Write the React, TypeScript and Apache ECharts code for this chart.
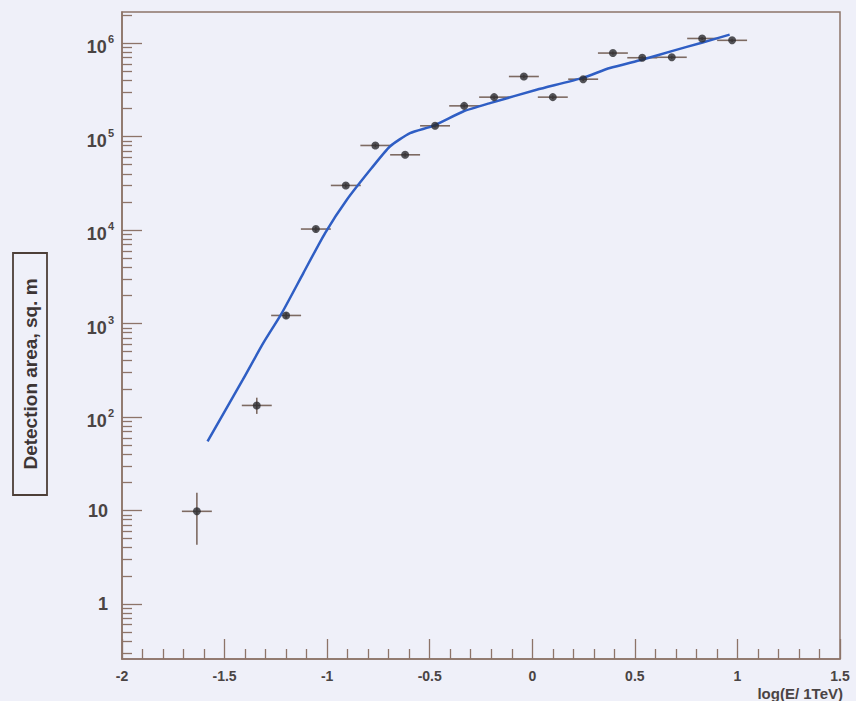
import React, { useEffect, useRef } from "react";
import * as echarts from "echarts";

// ---- data ----
const binCenters = [-1.635, -1.343, -1.2, -1.055, -0.909, -0.765, -0.62, -0.474, -0.332, -0.186, -0.041, 0.1, 0.248, 0.393, 0.536, 0.68, 0.828, 0.974];
const binHalfWidths = [0.073, 0.073, 0.073, 0.073, 0.073, 0.073, 0.073, 0.073, 0.073, 0.073, 0.073, 0.073, 0.073, 0.073, 0.073, 0.073, 0.073, 0.073];
const areaValues = [9.8, 133, 1220, 10250, 30000, 80300, 63800, 130300, 213000, 264000, 439000, 264000, 411000, 782000, 697000, 705000, 1120000, 1070000];
const areaErrLow = [5.5, 25, 90, 600, 1500, 3500, 3000, 5500, 9000, 11000, 18000, 11000, 17000, 30000, 27000, 27000, 42000, 40000];
const areaErrHigh = [5.7, 28, 90, 600, 1500, 3500, 3000, 5500, 9000, 11000, 18000, 11000, 17000, 30000, 27000, 27000, 42000, 40000];

const fitX = [-1.583, -1.411, -1.311, -1.221, -1.116, -1.01, -0.904, -0.783, -0.694, -0.596, -0.483, -0.337, -0.206, 0.021, 0.246, 0.378, 0.534, 0.68, 0.826, 0.962];
const fitArea = [54.8, 250.6, 620, 1294, 3467, 9290, 21090, 46030, 78340, 108900, 130300, 185400, 228000, 316200, 424600, 540800, 663700, 820300, 1009000, 1230000];

const xTickLabels = ["-2", "-1.5", "-1", "-0.5", "0", "0.5", "1", "1.5"];
const yDecades = [0, 1, 2, 3, 4, 5, 6];

const X_MIN = -2;
const X_MAX = 1.5;
const Y_MIN = 0.258;
const Y_MAX = 2.15e6;

const BG = "#eff0f9";
const FRAME = "#8d7469";
const TEXT = "#4a4444";
const FONT = "'Liberation Sans', Arial, Helvetica, sans-serif";

export default function App() {
  const ref = useRef<HTMLDivElement>(null);
  useEffect(() => {
    if (!ref.current) return;
    const chart = echarts.init(ref.current, undefined, { renderer: "svg" });
    const lg = (v: number) => Math.log10(v);
    const yMin = lg(Y_MIN);
    const yMax = lg(Y_MAX);

    const minorVals: number[] = [];
    for (let n = -1; n <= 6; n++) {
      for (let k = 2; k <= 9; k++) {
        const v = lg(k * Math.pow(10, n));
        if (v > yMin && v < yMax) minorVals.push(v);
      }
    }

    const points = binCenters.map((x, i) => [x, lg(areaValues[i])]);
    const bars = binCenters.map((x, i) => [
      x,
      lg(areaValues[i]),
      binHalfWidths[i],
      lg(Math.max(areaValues[i] - areaErrLow[i], 1e-3)),
      lg(areaValues[i] + areaErrHigh[i]),
    ]);
    const fit = fitX.map((x, i) => [x, lg(fitArea[i])]);

    const xLabelMap: Record<string, string> = {};
    [-2, -1.5, -1, -0.5, 0, 0.5, 1, 1.5].forEach((v, i) => (xLabelMap[String(v)] = xTickLabels[i]));

    chart.setOption({
      animation: false,
      backgroundColor: BG,
      grid: {
        left: 122,
        right: 16,
        top: 12,
        bottom: 42,
        show: true,
        borderColor: FRAME,
        borderWidth: 1.5,
        backgroundColor: "transparent",
      },
      xAxis: {
        type: "value",
        min: X_MIN,
        max: X_MAX,
        interval: 0.5,
        axisLine: { show: true, onZero: false, lineStyle: { color: FRAME, width: 1.5 } },
        axisTick: { show: true, inside: true, length: 20, lineStyle: { color: FRAME, width: 1.3 } },
        minorTick: { show: true, splitNumber: 5, length: 10, lineStyle: { color: FRAME, width: 1.3 } },
        splitLine: { show: false },
        axisLabel: {
          show: true,
          margin: 10,
          color: TEXT,
          fontFamily: FONT,
          fontWeight: "bold",
          fontSize: 14,
          formatter: (v: number) => xLabelMap[String(v)] ?? String(v),
        },
      },
      yAxis: [
        {
          type: "value",
          min: yMin,
          max: yMax,
          position: "left",
          axisLine: { show: true, onZero: false, lineStyle: { color: FRAME, width: 1.5 } },
          axisTick: {
            show: true,
            inside: true,
            length: 20,
            customValues: yDecades,
            lineStyle: { color: FRAME, width: 1.3 },
          },
          splitLine: { show: false },
          axisLabel: {
            show: true,
            customValues: yDecades,
            margin: 8,
            color: TEXT,
            fontFamily: FONT,
            fontWeight: "bold",
            fontSize: 18,
            formatter: (v: number) => {
              const n = Math.round(v);
              if (n === 0) return "{p|1}";
              if (n === 1) return "{p|10}";
              return "{b|10}{s|" + n + "}";
            },
            rich: {
              p: { fontSize: 18, fontWeight: "bold", fontFamily: FONT, color: TEXT, padding: [0, 6, 0, 0] },
              b: { fontSize: 18, fontWeight: "bold", fontFamily: FONT, color: TEXT, padding: [8, 0, 0, 0] },
              s: { fontSize: 11, fontWeight: "bold", fontFamily: FONT, color: TEXT, padding: [0, 0, 8, 1] },
            },
          },
        },
        {
          type: "value",
          min: yMin,
          max: yMax,
          position: "left",
          offset: 0,
          axisLine: { show: false, onZero: false },
          axisTick: {
            show: true,
            inside: true,
            length: 10,
            customValues: minorVals,
            lineStyle: { color: FRAME, width: 1.3 },
          },
          axisLabel: { show: false },
          splitLine: { show: false },
        },
      ],
      graphic: [
        {
          type: "rect",
          shape: { x: 13, y: 253, width: 34, height: 242 },
          style: { fill: "transparent", stroke: "#4d3f38", lineWidth: 1.8 },
        },
        {
          type: "text",
          x: 30,
          y: 374,
          rotation: Math.PI / 2,
          style: {
            text: "Detection area, sq. m",
            fill: "#3d3535",
            font: "bold 19px " + FONT,
            align: "center",
            verticalAlign: "middle",
          },
        },
        {
          type: "text",
          right: 13,
          top: 686,
          style: {
            text: "log(E/ 1TeV)",
            fill: TEXT,
            font: "bold 15px " + FONT,
          },
        },
      ],
      series: [
        {
          type: "custom",
          xAxisIndex: 0,
          yAxisIndex: 0,
          data: bars,
          z: 3,
          renderItem: (params: any, api: any) => {
            const x = api.value(0);
            const y = api.value(1);
            const xe = api.value(2);
            const yl = api.value(3);
            const yh = api.value(4);
            const pL = api.coord([x - xe, y]);
            const pR = api.coord([x + xe, y]);
            const pB = api.coord([x, yl]);
            const pT = api.coord([x, yh]);
            const st = { stroke: "#7d6a62", lineWidth: 1.6 };
            return {
              type: "group",
              children: [
                { type: "line", shape: { x1: pL[0], y1: pL[1], x2: pR[0], y2: pR[1] }, style: st },
                { type: "line", shape: { x1: pB[0], y1: pB[1], x2: pT[0], y2: pT[1] }, style: st },
              ],
            };
          },
        },
        {
          type: "line",
          data: fit,
          xAxisIndex: 0,
          yAxisIndex: 0,
          showSymbol: false,
          smooth: 0.2,
          z: 4,
          lineStyle: { color: "#2f5ec4", width: 2.5 },
        },
        {
          type: "scatter",
          data: points,
          xAxisIndex: 0,
          yAxisIndex: 0,
          symbol: "circle",
          symbolSize: 8,
          z: 5,
          itemStyle: { color: "#2b2a2e" },
        },
      ],
    });
    return () => chart.dispose();
  }, []);
  return (
    <div
      ref={ref}
      style={{ position: "fixed", left: 0, top: 0, width: 856, height: 701, background: BG }}
    />
  );
}
